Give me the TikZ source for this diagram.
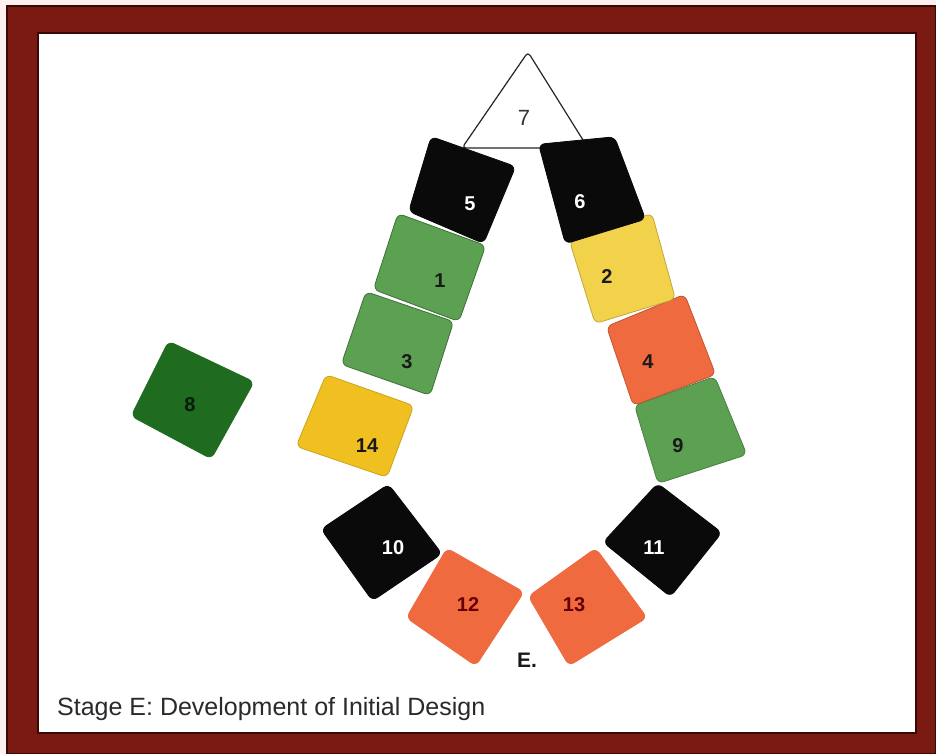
\documentclass[tikz,border=0pt]{standalone}
\usepackage{fontspec}
\setmainfont{Liberation Sans}
\definecolor{framered}{HTML}{7A1A12}
\definecolor{framedark}{HTML}{3A0805}
\definecolor{tblack}{HTML}{0A0A0A}
\definecolor{tgreen}{HTML}{5CA052}
\definecolor{tdgreen}{HTML}{1F6B1F}
\definecolor{tyellow}{HTML}{F2D24A}
\definecolor{tgold}{HTML}{F0C020}
\definecolor{torange}{HTML}{EF6A3E}
\definecolor{capgray}{HTML}{2A2A2A}
\tikzset{
  tile/.style={rounded corners=6pt, line width=0.8pt},
  numw/.style={text=white, font=\fontsize{20}{24}\selectfont\bfseries, inner sep=0pt},
  numd/.style={text=black!90, font=\fontsize{20}{24}\selectfont\bfseries, inner sep=0pt},
}
\newcommand\mytile[4]{\begin{scope}[shift={(#1,#2)},scale=1.07,shift={(-#1,-#2)}]\draw[tile,#3] #4;\end{scope}}
\begin{document}
\begin{tikzpicture}[x=1pt,y=-1pt]
\useasboundingbox (0,0) rectangle (936,754);
% background and frame
\fill[white!94!red] (0,0) rectangle (936,754);
\fill[framered] (6,5) rectangle (936,754);
\draw[framedark, line width=2pt] (7,6) rectangle (936,754);
\fill[white] (38,33) rectangle (916,733);
\draw[framedark, line width=2pt] (38,33) rectangle (916,733);
% triangle 7
\draw[black!85, line width=1.2pt, fill=white, rounded corners=4pt] (528,52) -- (588,148) -- (462,148) -- cycle;
\node[numd, font=\fontsize{22}{24}\selectfont, text=black!80] (l7) at (524,118) {7};
% left column
\mytile{355.75}{426}{fill=tgold, draw=tgold!85!black}{(328,378) -- (410,407) -- (385,474) -- (300,445) -- cycle}
\mytile{397.75}{343.25}{fill=tgreen, draw=tgreen!70!black}{(368,295) -- (450,323) -- (428,392) -- (345,363) -- cycle}
\mytile{429}{267.5}{fill=tgreen, draw=tgreen!70!black}{(400,217) -- (482,247) -- (457,318) -- (377,288) -- cycle}
\mytile{459.75}{189.5}{fill=tblack, draw=tblack}{(433,140) -- (512,168) -- (482,240) -- (412,210) -- cycle}
% right column
\mytile{688.5}{430}{fill=tgreen, draw=tgreen!80!black}{(638,407) -- (713,380) -- (743,453) -- (660,480) -- cycle}
\mytile{660}{350.25}{fill=torange, draw=torange!80!black}{(610,328) -- (683,298) -- (712,373) -- (635,402) -- cycle}
\mytile{623}{269.25}{fill=tyellow, draw=tyellow!80!black}{(573,243) -- (650,217) -- (672,297) -- (597,320) -- cycle}
\mytile{591}{186}{fill=tblack, draw=tblack}{(542,147) -- (613,140) -- (642,217) -- (567,240) -- cycle}
% lone tile 8
\mytile{191.25}{399.5}{fill=tdgreen, draw=tdgreen}{(170,345) -- (250,383) -- (210,455) -- (135,415) -- cycle}
% bottom arc
\mytile{381}{542}{fill=tblack, draw=tblack}{(388,488) -- (438,553) -- (373,597) -- (325,530) -- cycle}
\mytile{463.25}{606}{fill=torange, draw=torange}{(448,552) -- (520,593) -- (475,662) -- (410,617) -- cycle}
\mytile{585}{607}{fill=torange, draw=torange}{(595,552) -- (643,617) -- (570,662) -- (532,597) -- cycle}
\mytile{663.25}{538.75}{fill=tblack, draw=tblack}{(658,487) -- (718,533) -- (670,593) -- (607,542) -- cycle}
% labels
\node[numw] (l5) at (470,204) {5};
\node[numw] (l6) at (580,202) {6};
\node[numd] (l1) at (440,281) {1};
\node[numd] (l2) at (607,277) {2};
\node[numd] (l3) at (407,362) {3};
\node[numd] (l4) at (648,362) {4};
\node[numd] (l9) at (678,446) {9};
\node[numd] (l14) at (367,446) {14};
\node[numd, text=black!75!tdgreen] (l8) at (190,405) {8};
\node[numw] (l10) at (393,548) {10};
\node[numw] (l11) at (654,548) {11};
\node[numd, text=red!40!black] (l12) at (468,605) {12};
\node[numd, text=red!40!black] (l13) at (574,605) {13};
\node[numd, font=\fontsize{21}{24}\selectfont\bfseries] (lE) at (527,660) {E.};
% caption
\node[anchor=base west, inner sep=0pt, text=capgray, font=\fontsize{25}{30}\selectfont] (cap) at (57,715) {Stage E: Development of Initial Design};
\end{tikzpicture}
\end{document}
